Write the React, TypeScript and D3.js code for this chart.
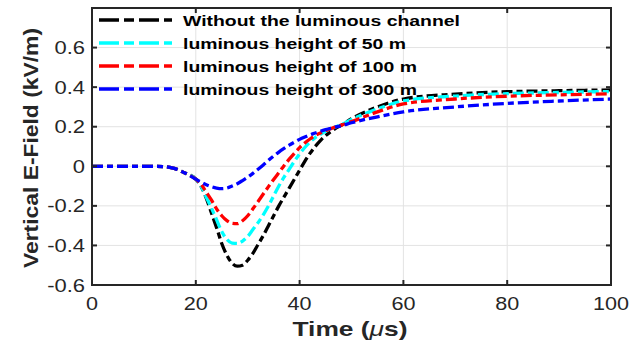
import React from "react";
import * as d3 from "d3";

// time axis samples (µs) and the field in kV/m for each case
const times = [0, 4, 8, 12, 14, 16, 18, 20, 21, 22, 23, 24, 25, 26, 27, 28, 29, 30, 31, 32, 33, 34, 35, 36, 37, 38, 39, 40, 41, 42, 43, 44, 45, 46, 47, 48, 50, 55, 60, 70, 80, 90, 100];

const noLuminous = [0, 0, 0, 0, -0.002, -0.012, -0.035, -0.065, -0.1, -0.16, -0.235, -0.31, -0.39, -0.45, -0.49, -0.505, -0.5, -0.475, -0.44, -0.395, -0.35, -0.3, -0.25, -0.2, -0.155, -0.11, -0.065, -0.02, 0.025, 0.065, 0.1, 0.13, 0.155, 0.175, 0.193, 0.207, 0.24, 0.3, 0.34, 0.365, 0.377, 0.382, 0.386];
const height50 = [0, 0, 0, 0, -0.002, -0.012, -0.035, -0.065, -0.1, -0.155, -0.21, -0.27, -0.33, -0.37, -0.388, -0.39, -0.378, -0.355, -0.32, -0.285, -0.245, -0.2, -0.15, -0.1, -0.055, -0.015, 0.025, 0.062, 0.095, 0.122, 0.145, 0.162, 0.177, 0.19, 0.2, 0.21, 0.236, 0.29, 0.33, 0.355, 0.367, 0.373, 0.378];
const height100 = [0, 0, 0, 0, -0.002, -0.012, -0.035, -0.065, -0.09, -0.13, -0.17, -0.215, -0.25, -0.275, -0.288, -0.29, -0.275, -0.25, -0.215, -0.178, -0.14, -0.103, -0.067, -0.032, 0.003, 0.036, 0.066, 0.094, 0.118, 0.138, 0.155, 0.168, 0.18, 0.19, 0.2, 0.208, 0.226, 0.275, 0.315, 0.34, 0.354, 0.361, 0.366];
const height300 = [0, 0, 0, 0, -0.002, -0.012, -0.035, -0.065, -0.08, -0.093, -0.103, -0.11, -0.113, -0.11, -0.1, -0.088, -0.072, -0.055, -0.036, -0.015, 0.007, 0.03, 0.052, 0.072, 0.09, 0.107, 0.122, 0.136, 0.148, 0.159, 0.168, 0.177, 0.185, 0.192, 0.199, 0.205, 0.22, 0.25, 0.275, 0.3, 0.318, 0.33, 0.34];

const seriesNames = ["Without the luminous channel", "luminous height of 50 m", "luminous height of 100 m", "luminous height of 300 m"];
const seriesColors = ["#000000", "#00ffff", "#ff0000", "#0000ff"];
const legendTextLengths = [277, 223, 234, 234];
const xTicks = [0, 20, 40, 60, 80, 100];
const yTicks = [-0.6, -0.4, -0.2, 0, 0.2, 0.4, 0.6];

const W = 639;
const H = 345;
const margin = { left: 92, right: 28, top: 8, bottom: 60 };
const axisColor = "#262626";
const font = "'Liberation Sans', Arial, sans-serif";

export default function App() {
    const x = d3.scaleLinear().domain([0, 100]).range([margin.left, W - margin.right]);
    const y = d3.scaleLinear().domain([-0.6, 0.8]).range([H - margin.bottom, margin.top]);
    const allSeries = [noLuminous, height50, height100, height300];

    const makeLine = d3
        .line<number>()
        .x((_, i) => x(times[i]))
        .y((d) => y(d))
        .curve(d3.curveMonotoneX);

    const x0 = x(0), x1 = x(100), y0 = y(-0.6), y1 = y(0.8);

    return (
        <svg width={W} height={H} style={{ position: "absolute", left: 0, top: 0, background: "#fff" }}>
            {/* grid */}
            {xTicks.map((t) => (
                <line key={"gx" + t} x1={x(t)} x2={x(t)} y1={y1} y2={y0} stroke="#e3e3e3" strokeWidth={1} />
            ))}
            {yTicks.map((t) => (
                <line key={"gy" + t} x1={x0} x2={x1} y1={y(t)} y2={y(t)} stroke="#e3e3e3" strokeWidth={1} />
            ))}

            {/* curves: black first, blue on top */}
            {allSeries.map((s, i) => (
                <path
                    key={"s" + i}
                    d={makeLine(s) ?? ""}
                    fill="none"
                    stroke={seriesColors[i]}
                    strokeWidth={3.3}
                    strokeDasharray="11,4,6,4"
                />
            ))}

            {/* box and inward ticks */}
            <rect x={x0} y={y1} width={x1 - x0} height={y0 - y1} fill="none" stroke={axisColor} strokeWidth={2} />
            {xTicks.map((t) => (
                <g key={"tx" + t}>
                    <line x1={x(t)} x2={x(t)} y1={y0} y2={y0 - 5} stroke={axisColor} strokeWidth={2} />
                    <line x1={x(t)} x2={x(t)} y1={y1} y2={y1 + 5} stroke={axisColor} strokeWidth={2} />
                    <text
                        transform={`translate(${x(t)}, ${y0 + 25}) scale(1.2, 1)`}
                        textAnchor="middle"
                        fontFamily={font}
                        fontSize={18}
                        fill={axisColor}
                    >
                        {t}
                    </text>
                </g>
            ))}
            {yTicks.map((t) => (
                <g key={"ty" + t}>
                    <line x1={x0} x2={x0 + 5} y1={y(t)} y2={y(t)} stroke={axisColor} strokeWidth={2} />
                    <line x1={x1} x2={x1 - 5} y1={y(t)} y2={y(t)} stroke={axisColor} strokeWidth={2} />
                    <text
                        transform={`translate(${x0 - 7}, ${y(t) + 6.5}) scale(1.22, 1)`}
                        textAnchor="end"
                        fontFamily={font}
                        fontSize={18}
                        fill={axisColor}
                    >
                        {t === 0 ? "0" : t.toFixed(1)}
                    </text>
                </g>
            ))}

            {/* axis titles */}
            <text
                x={350}
                y={336}
                textAnchor="middle"
                fontFamily={font}
                fontSize={21}
                fontWeight="bold"
                fill={axisColor}
                textLength={115}
                lengthAdjust="spacingAndGlyphs"
            >
                Time (<tspan fontStyle="italic" fontWeight="normal">μ</tspan>s)
            </text>
            <text
                transform={`translate(38, 148) rotate(-90)`}
                textAnchor="middle"
                fontFamily={font}
                fontSize={20}
                fontWeight="bold"
                fill={axisColor}
                textLength={240}
                lengthAdjust="spacingAndGlyphs"
            >
                Vertical E-Field (kV/m)
            </text>

            {/* legend */}
            {seriesNames.map((name, i) => {
                const cy = 20 + i * 23;
                return (
                    <g key={"lg" + i}>
                        <line x1={99} x2={172} y1={cy} y2={cy} stroke={seriesColors[i]} strokeWidth={3.3} strokeDasharray="20,5,10,5" />
                        <text
                            x={183}
                            y={cy + 5.5}
                            fontFamily={font}
                            fontSize={15.5}
                            fontWeight="bold"
                            fill="#000"
                            textLength={legendTextLengths[i]}
                            lengthAdjust="spacingAndGlyphs"
                        >
                            {name}
                        </text>
                    </g>
                );
            })}
        </svg>
    );
}
